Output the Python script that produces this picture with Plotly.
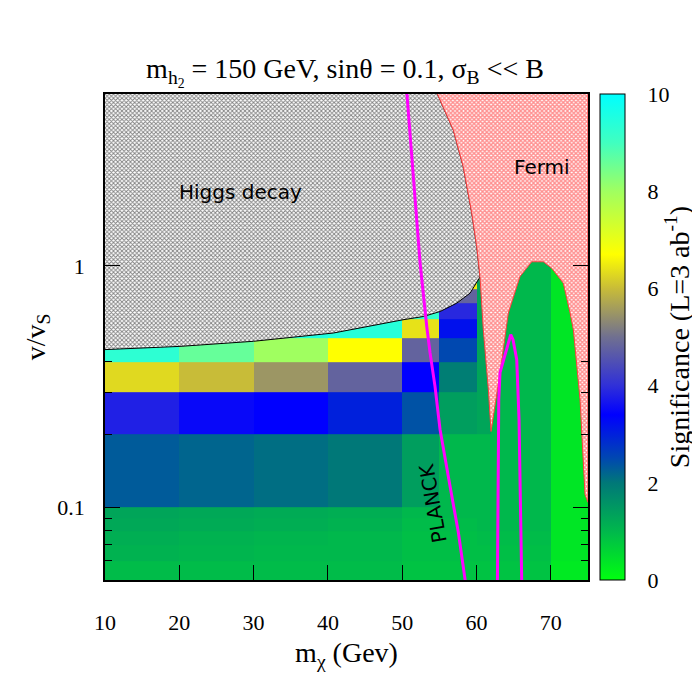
import math

import plotly.graph_objects as go

# --- data ---------------------------------------------------------------
# heatmap bin edges (m_chi in GeV, v/v_S)
x_edges = [10, 20, 30, 40, 50, 55, 60, 62, 70, 75]
y_edges = [0.05, 0.06, 0.07, 0.08, 0.09, 0.1, 0.2, 0.3, 0.4, 0.5, 0.6, 0.7, 0.8, 0.9, 1, 2]

# significance per cell, rows from bottom (0.05) to top (1-2); None = no point
significance = [
    [0.95, 0.95, 0.95, 0.95, 0.85, 0.85, 0.85, 0.85, 0.3],
    [1.1, 1.05, 1.0, 1.0, 0.9, 0.9, 0.9, 0.9, 0.35],
    [1.15, 1.1, 1.05, 1.0, 0.9, 0.9, 0.95, 0.95, 0.35],
    [1.25, 1.2, 1.15, 1.1, 0.95, 0.95, 1.0, 1.0, 0.35],
    [1.3, 1.25, 1.2, 1.15, 1.0, 1.0, 1.0, 1.0, 0.35],
    [2.3, 2.2, 2.1, 2.0, 1.4, 1.0, 1.0, 1.0, 0.35],
    [3.8, 3.5, 3.4, 3.0, 2.4, 1.4, 1.3, 1.0, 0.35],
    [6.3, 6.0, 5.5, 4.8, 3.4, 1.9, 1.3, 1.0, 0.35],
    [9.3, 8.6, 8.0, 6.7, 4.8, 2.5, 1.3, 1.0, 0.35],
    [9.8, 9.6, 9.5, 9.4, 6.4, 3.2, 1.3, 1.0, 0.35],
    [None, None, None, None, 9.2, 3.9, 1.3, 1.0, 0.35],
    [None, None, None, None, 10.0, 4.8, 1.3, 1.0, 0.35],
    [None, None, None, None, None, 6.5, 1.3, 1.0, 0.35],
    [None, None, None, None, None, 8.0, 1.3, 1.0, 0.35],
    [None, None, None, None, None, None, 1.3, 1.0, 0.35],
]

# excluded by Higgs decay (region above this boundary)
higgs_x = [10, 54.68, 56.88, 58.22, 59.35, 60.03, 60.47, 60.24, 59.13, 57.34,
           55.09, 52.84, 50.1, 40.73, 29.96, 20.09, 10]
higgs_y = [5.2, 5.2, 3.65, 2.57, 1.66, 1.20, 0.90, 0.875, 0.771, 0.701,
           0.647, 0.617, 0.598, 0.527, 0.487, 0.464, 0.45]

# excluded by Fermi
fermi_x = [54.68, 56.88, 58.22, 59.35, 60.03, 60.47, 60.91, 61.59, 61.95, 63.16,
           64.28, 64.95, 65.85, 67.43, 68.99, 70.12, 71.68, 72.58, 73.03, 73.93,
           74.6, 75, 75]
fermi_y = [5.2, 3.65, 2.57, 1.66, 1.20, 0.90, 0.544, 0.308, 0.206, 0.361,
           0.638, 0.747, 0.904, 1.04, 1.04, 0.978, 0.848, 0.64, 0.544, 0.279,
           0.113, 0.105, 5.2]

# PLANCK relic density contours
planck1_x = [50.62, 51.49, 52.4, 53.3, 53.74, 54.41, 55.09, 56.43, 57.55, 58.45, 58.5]
planck1_y = [5.2, 2.27, 1.03, 0.561, 0.437, 0.317, 0.21, 0.1225, 0.0788, 0.0504, 0.049]
planck2_x = [62.81, 62.9, 62.99, 63.16, 63.84, 64.6, 64.91, 65.41, 65.72, 66.08]
planck2_y = [0.049, 0.1305, 0.279, 0.361, 0.429, 0.519, 0.495, 0.409, 0.231, 0.049]

x_ticks = [10, 20, 30, 40, 50, 60, 70]
y_ticks = [0.1, 1]
y_minor = [0.06, 0.07, 0.08, 0.09, 0.2, 0.3, 0.4]
cb_ticks = [0, 2, 4, 6, 8, 10]

SERIF = "Liberation Serif"
SANS = "DejaVu Sans"
LABEL = dict(family=SERIF, size=28, color="black")
TICK = dict(family=SERIF, size=22, color="black")

colorscale = [
    [0.0, "#00ff10"], [0.1, "#00b84c"], [0.2, "#007878"], [0.25, "#0048b0"],
    [0.34, "#0000ff"], [0.4, "#3030d8"], [0.5, "#707090"], [0.6, "#c8bc38"],
    [0.67, "#ffff00"], [0.8, "#a0ff60"], [0.9, "#40ffc0"], [1.0, "#00ffff"],
]

fig = go.Figure()

fig.add_trace(go.Heatmap(
    x=x_edges, y=y_edges, z=significance,
    zmin=0, zmax=10, colorscale=colorscale, hoverongaps=False,
    colorbar=dict(
        x=1.025, xanchor="left", xpad=0, y=0.5, yanchor="middle", ypad=0,
        len=1, lenmode="fraction", thickness=25,
        outlinecolor="black", outlinewidth=1,
        tickvals=cb_ticks, ticks="outside", ticklen=18, tickcolor="rgba(0,0,0,0)",
        tickfont=TICK,
        title=dict(text="Significance (L=3 ab<sup>-1</sup>)", side="right", font=LABEL),
    ),
))

fig.add_trace(go.Scatter(
    x=higgs_x, y=higgs_y, mode="lines", fill="toself", fillcolor="white",
    fillpattern=dict(shape="x", size=3, solidity=0.5, fgcolor="black", bgcolor="white"),
    line=dict(color="black", width=1), showlegend=False, hoverinfo="skip",
))
fig.add_trace(go.Scatter(
    x=fermi_x, y=fermi_y, mode="lines", fill="toself", fillcolor="white",
    fillpattern=dict(shape="x", size=3, solidity=0.7, fgcolor="#ff2020", bgcolor="white"),
    line=dict(color="#ff4040", width=1), showlegend=False, hoverinfo="skip",
))
for px, py in [(planck1_x, planck1_y), (planck2_x, planck2_y)]:
    fig.add_trace(go.Scatter(
        x=px, y=py, mode="lines", line=dict(color="#ff00ff", width=3),
        showlegend=False, hoverinfo="skip",
    ))

labels = [("Higgs decay", 28.3, 2.02, 0), ("Fermi", 68.8, 2.56, 0), ("PLANCK", 54.15, 0.104, -100)]
for text, lx, ly, angle in labels:
    fig.add_annotation(x=lx, y=math.log10(ly), text=text, showarrow=False, textangle=angle,
                       font=dict(family=SANS, size=20, color="black"))

fig.update_xaxes(
    range=[10, 75], tickvals=x_ticks, ticks="inside", ticklen=15, tickcolor="black",
    showline=True, linecolor="black", linewidth=1.5, mirror=True, showgrid=False, zeroline=False,
    ticklabelstandoff=22, tickfont=TICK,
    title=dict(text="m<sub>χ</sub> (Gev)", standoff=8, font=LABEL),
)
fig.update_yaxes(
    type="log", range=[math.log10(0.05), math.log10(5.15)],
    tickvals=y_ticks, ticktext=["0.1", "1"], ticks="inside", ticklen=15, tickcolor="black",
    minor=dict(tickvals=y_minor, ticks="inside", ticklen=7, tickcolor="black", showgrid=False),
    showline=True, linecolor="black", linewidth=1.5, mirror="ticks", showgrid=False, zeroline=False,
    ticklabelstandoff=14, tickfont=TICK,
    title=dict(text="v/v<sub>S</sub>", standoff=4, font=LABEL),
)

# page body adds an 8px offset, so the figure is 692 px with margins shifted by 8
fig.update_layout(
    width=692, height=692,
    margin=dict(l=97, r=112, t=86, b=120, autoexpand=False),
    paper_bgcolor="white", plot_bgcolor="white",
    showlegend=False,
    title=dict(
        text="m<sub>h<sub>2</sub></sub> = 150 GeV, sinθ = 0.1, σ<sub>B</sub> << B",
        x=0.487, xanchor="center", y=1 - 60 / 692, yanchor="middle", yref="container",
        font=LABEL,
    ),
)

fig.write_html("out.html")
